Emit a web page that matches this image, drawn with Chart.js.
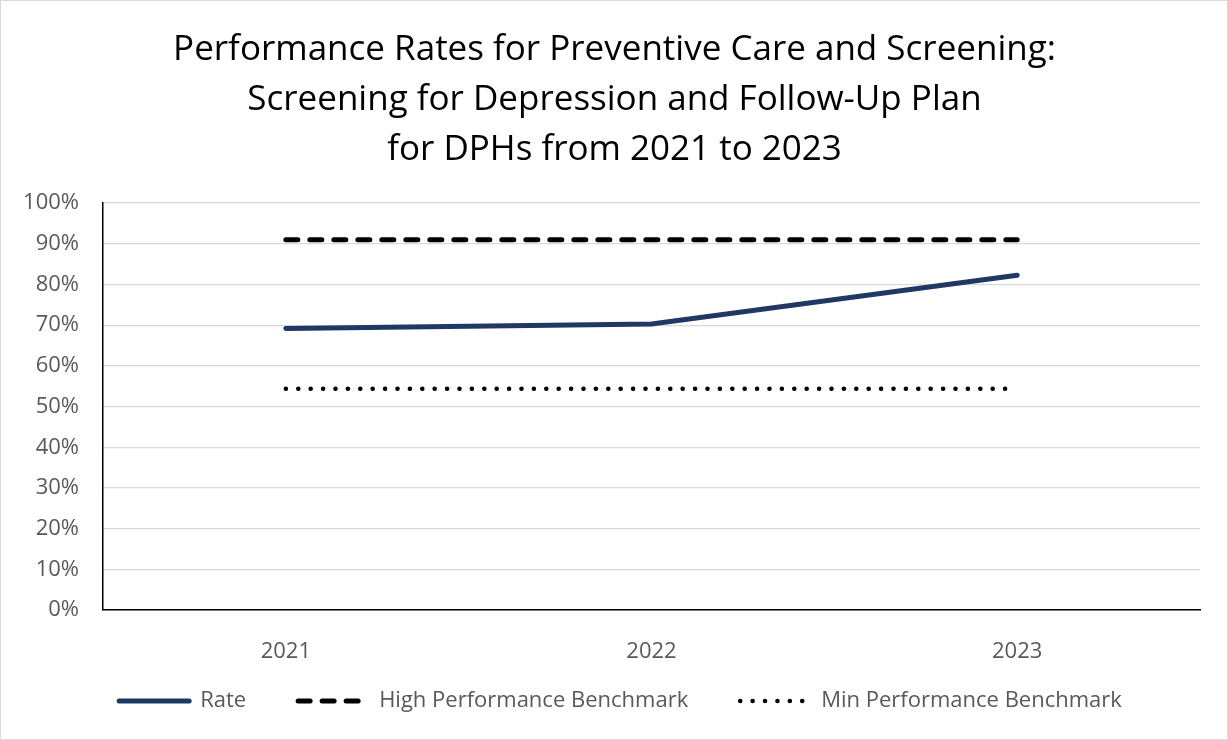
<!DOCTYPE html>
<html>
<head>
<meta charset="utf-8">
<script src="https://cdn.jsdelivr.net/npm/chart.js@4"></script>
<style>
  body { margin: 0; background: #fff; }
  #wrap { width: 1228px; height: 740px; box-sizing: border-box; border: 1px solid #d9d9d9; }
</style>
</head>
<body>
<div id="wrap"><canvas id="chart"></canvas></div>
<script>
"use strict";
const years = ["2021", "2022", "2023"];
const rate = [69.2, 70.3, 82.3];
const highBenchmark = [91, 91, 91];
const minBenchmark = [54.4, 54.4, 54.4];
const titleLines = [
  "Performance Rates for Preventive Care and Screening:",
  "Screening for Depression and Follow-Up Plan",
  "for DPHs from 2021 to 2023"
];

const font = "'Open Sans', 'Noto Sans', sans-serif";
const grey = "#595959";

// legend samples should use the dataset's dash and cap, not the point's
function legendLabels(chart) {
  const items = Chart.defaults.plugins.legend.labels.generateLabels(chart);
  return items.map((item) => {
    const ds = chart.data.datasets[item.datasetIndex];
    item.lineDash = ds.borderDash || [];
    item.lineCap = ds.borderCapStyle;
    item.lineWidth = ds.borderWidth;
    item.pointStyle = "line";
    return item;
  });
}

// nudge the legend row and title into place after layout
const legendNudge = {
  id: "legendNudge",
  afterLayout(chart) {
    const lg = chart.legend;
    lg.left += 20;
    lg.right += 20;
    lg.top -= 24;
    lg.bottom -= 24;
    const tb = chart.titleBlock;
    tb.left += 14;
    tb.right += 14;
  }
};

const ctx = document.getElementById("chart");
new Chart(ctx, {
  type: "line",
  data: {
    labels: years,
    datasets: [
      {
        label: "Rate",
        data: rate,
        borderColor: "#1f3864",
        backgroundColor: "#1f3864",
        borderWidth: 5,
        borderCapStyle: "round",
        pointRadius: 0
      },
      {
        label: "High Performance Benchmark",
        data: highBenchmark,
        borderColor: "#000",
        backgroundColor: "#000",
        borderWidth: 5,
        borderDash: [12, 12],
        borderCapStyle: "round",
        pointRadius: 0
      },
      {
        label: "Min Performance Benchmark",
        data: minBenchmark,
        borderColor: "#000",
        backgroundColor: "#000",
        borderWidth: 4.5,
        borderDash: [0.1, 12.3],
        borderCapStyle: "round",
        pointRadius: 0
      }
    ]
  },
  plugins: [legendNudge],
  options: {
    responsive: true,
    maintainAspectRatio: false,
    animation: false,
    layout: { padding: { left: 0, right: 27, top: 0, bottom: -7 } },
    plugins: {
      title: {
        display: true,
        text: titleLines,
        color: "#000",
        font: { family: font, size: 35, weight: "normal", lineHeight: 1.43 },
        padding: { top: 24, bottom: 28 }
      },
      legend: {
        position: "bottom",
        labels: {
          usePointStyle: true,
          pointStyle: "line",
          pointStyleWidth: 70,
          color: grey,
          padding: 52,
          font: { family: font, size: 22 },
          generateLabels: legendLabels
        }
      },
      tooltip: { enabled: false }
    },
    scales: {
      x: {
        offset: true,
        grid: { display: false },
        border: { display: true, color: "#000", width: 1.5 },
        afterFit: (scale) => { scale.height = 52; },
        ticks: { color: grey, padding: 21, font: { family: font, size: 22 } }
      },
      y: {
        min: 0,
        max: 100,
        grid: { color: "#d9d9d9", lineWidth: 1.3, drawTicks: false },
        border: { display: true, color: "#000", width: 1.5 },
        afterFit: (scale) => { scale.width = 102; },
        ticks: {
          stepSize: 10,
          color: grey,
          padding: 24,
          font: { family: font, size: 22 },
          callback: (v) => v + "%"
        }
      }
    }
  }
});
</script>
</body>
</html>
